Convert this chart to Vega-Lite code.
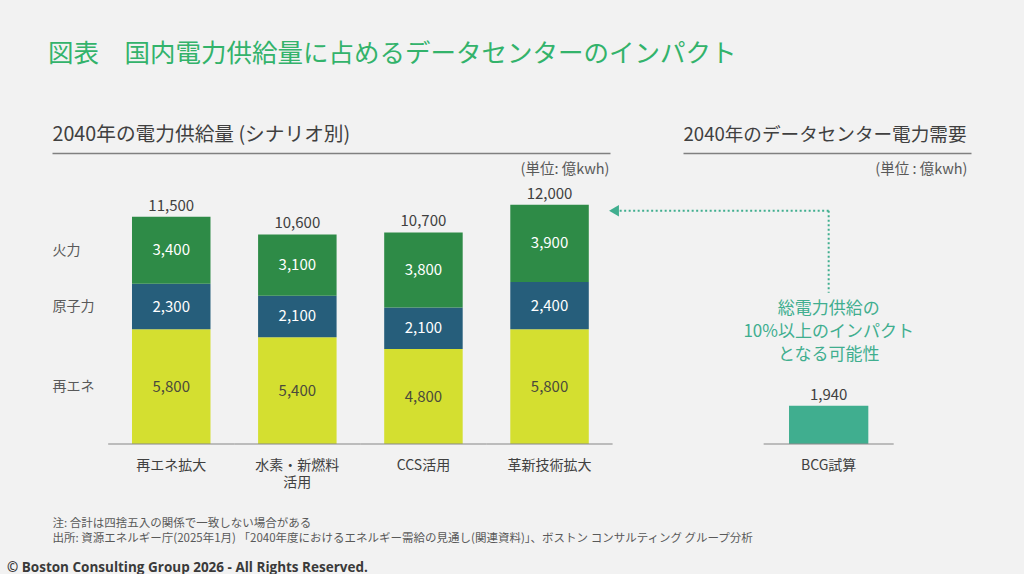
{
  "$schema": "https://vega.github.io/schema/vega-lite/v6.json",
  "background": "#f2f2f2",
  "padding": {"left": 7, "top": 41, "right": 53, "bottom": 0},
  "config": {
    "font": "Noto Sans CJK JP",
    "view": {"stroke": null},
    "axis": {"grid": false}
  },
  "title": {
    "text": "図表　国内電力供給量に占めるデータセンターのインパクト",
    "anchor": "start",
    "frame": "group",
    "dx": -4,
    "offset": 57,
    "fontSize": 25.5,
    "fontWeight": "normal",
    "color": "#33b36b"
  },
  "datasets": {
    "supply": [
      {"scenario": "再エネ拡大", "source": "再エネ", "value": 5800},
      {"scenario": "再エネ拡大", "source": "原子力", "value": 2300},
      {"scenario": "再エネ拡大", "source": "火力", "value": 3400},
      {"scenario": "水素・新燃料活用", "source": "再エネ", "value": 5400},
      {"scenario": "水素・新燃料活用", "source": "原子力", "value": 2100},
      {"scenario": "水素・新燃料活用", "source": "火力", "value": 3100},
      {"scenario": "CCS活用", "source": "再エネ", "value": 4800},
      {"scenario": "CCS活用", "source": "原子力", "value": 2100},
      {"scenario": "CCS活用", "source": "火力", "value": 3800},
      {"scenario": "革新技術拡大", "source": "再エネ", "value": 5800},
      {"scenario": "革新技術拡大", "source": "原子力", "value": 2400},
      {"scenario": "革新技術拡大", "source": "火力", "value": 3900}
    ],
    "totals": [
      {"scenario": "再エネ拡大", "total": 11500},
      {"scenario": "水素・新燃料活用", "total": 10600},
      {"scenario": "CCS活用", "total": 10700},
      {"scenario": "革新技術拡大", "total": 12000}
    ],
    "dc": [
      {"case": "BCG試算", "value": 1940}
    ]
  },
  "hconcat": [
    {
      "width": 558,
      "height": 291,
      "title": {
        "text": "© Boston Consulting Group 2026 - All Rights Reserved.",
        "orient": "bottom",
        "anchor": "start",
        "frame": "group",
        "dx": -45,
        "offset": 17,
        "font": "Open Sans",
        "fontSize": 13.5,
        "fontWeight": "bold",
        "color": "#3a3a3a"
      },
      "resolve": {"axis": {"x": "independent", "y": "independent"}},
      "layer": [
        {
          "data": {"name": "supply"},
          "transform": [
            {"calculate": "indexof(['再エネ','原子力','火力'], datum.source)", "as": "ord"},
            {"stack": "value", "groupby": ["scenario"], "sort": [{"field": "ord", "order": "ascending"}], "as": ["v0", "v1"]}
          ],
          "mark": {"type": "bar"},
          "encoding": {
            "x": {
              "field": "scenario", "type": "nominal",
              "sort": ["再エネ拡大", "水素・新燃料活用", "CCS活用", "革新技術拡大"],
              "scale": {"paddingInner": 0.3775, "paddingOuter": 0.4013, "align": 0.7904},
              "axis": {
                "orient": "bottom",
                "title": ["注: 合計は四捨五入の関係で一致しない場合がある", "出所: 資源エネルギー庁(2025年1月) 「2040年度におけるエネルギー需給の見通し(関連資料)」、ボストン コンサルティング グループ分析"],
                "domain": false, "ticks": false, "tickSize": 0,
                "labelPadding": 14, "labelAngle": 0, "labelFontSize": 14, "labelColor": "#404040",
                "labelLineHeight": 17,
                "labelExpr": "datum.value == '水素・新燃料活用' ? ['水素・新燃料', '活用'] : datum.value",
                "titleAnchor": "start", "titleAlign": "left", "titleBaseline": "top",
                "titleX": 0, "titleY": 73,
                "titleFontSize": 11.5, "titleFontWeight": "normal", "titleColor": "#595959", "titleLineHeight": 15
              }
            },
            "y": {
              "field": "v0", "type": "quantitative",
              "scale": {"domain": [0, 14720], "nice": false},
              "axis": {
                "orient": "left",
                "values": [2900, 6950, 9800],
                "labelExpr": "datum.value == 2900 ? '再エネ' : datum.value == 6950 ? '原子力' : '火力'",
                "domain": false, "ticks": false, "tickSize": 0, "grid": false,
                "labelAlign": "left", "labelPadding": 0, "labelFontSize": 14, "labelColor": "#595959",
                "title": "(単位: 億kwh)", "titleAngle": 0, "titleX": 557, "titleY": 16,
                "titleAlign": "right", "titleBaseline": "middle",
                "titleFontSize": 14.5, "titleFontWeight": "normal", "titleColor": "#595959"
              }
            },
            "y2": {"field": "v1"},
            "color": {
              "field": "source", "type": "nominal",
              "scale": {"domain": ["火力", "原子力", "再エネ"], "range": ["#2e8b47", "#265e7b", "#d4df30"]},
              "legend": null
            }
          }
        },
        {
          "data": {"name": "supply"},
          "transform": [
            {"calculate": "indexof(['再エネ','原子力','火力'], datum.source)", "as": "ord"},
            {"stack": "value", "groupby": ["scenario"], "sort": [{"field": "ord", "order": "ascending"}], "as": ["v0", "v1"]},
            {"calculate": "(datum.v0 + datum.v1) / 2", "as": "mid"}
          ],
          "mark": {"type": "text", "fontSize": 15, "baseline": "middle"},
          "encoding": {
            "x": {"field": "scenario", "type": "nominal", "sort": ["再エネ拡大", "水素・新燃料活用", "CCS活用", "革新技術拡大"], "axis": null},
            "y": {"field": "mid", "type": "quantitative", "axis": null},
            "text": {"field": "value", "type": "quantitative", "format": ","},
            "color": {"condition": {"test": "datum.source === '再エネ'", "value": "#4a4a3c"}, "value": "#ffffff"}
          }
        },
        {
          "data": {"name": "supply"},
          "transform": [
            {"aggregate": [{"op": "sum", "field": "value", "as": "top"}], "groupby": ["scenario"]},
            {"lookup": "scenario", "from": {"data": {"name": "totals"}, "key": "scenario", "fields": ["total"]}}
          ],
          "mark": {"type": "text", "fontSize": 15, "baseline": "middle", "dy": -11, "color": "#404040"},
          "encoding": {
            "x": {"field": "scenario", "type": "nominal", "sort": ["再エネ拡大", "水素・新燃料活用", "CCS活用", "革新技術拡大"], "axis": null},
            "y": {"field": "top", "type": "quantitative", "axis": null},
            "text": {"field": "total", "type": "quantitative", "format": ","}
          }
        },
        {
          "data": {"name": "totals"},
          "mark": {"type": "tick", "orient": "horizontal", "size": 126.1, "thickness": 1.5, "color": "#8c8c8c"},
          "encoding": {
            "x": {
              "field": "scenario", "type": "nominal",
              "sort": ["再エネ拡大", "水素・新燃料活用", "CCS活用", "革新技術拡大"],
              "axis": {
                "orient": "top",
                "title": "2040年の電力供給量 (シナリオ別)",
                "labels": false, "ticks": false, "tickSize": 0,
                "domain": true, "domainColor": "#808080", "domainWidth": 1.5,
                "titleAnchor": "start", "titleAlign": "left", "titlePadding": 9,
                "titleFontSize": 19.7, "titleFontWeight": "normal", "titleColor": "#404040"
              }
            },
            "y": {"datum": 0, "type": "quantitative", "axis": null}
          }
        }
      ]
    },
    {
      "width": 288,
      "height": 291,
      "resolve": {"axis": {"x": "independent", "y": "independent"}},
      "layer": [
        {
          "data": {"name": "dc"},
          "mark": {"type": "bar", "color": "#40ae8f"},
          "encoding": {
            "x": {
              "field": "case", "type": "nominal",
              "scale": {"paddingInner": 0.39, "paddingOuter": 0.8027, "align": 0.508},
              "axis": {
                "orient": "bottom", "title": null,
                "domain": false, "ticks": false, "tickSize": 0,
                "labelPadding": 14, "labelAngle": 0, "labelFontSize": 14, "labelColor": "#404040"
              }
            },
            "y": {
              "field": "value", "type": "quantitative",
              "scale": {"domain": [0, 14720], "nice": false},
              "axis": {
                "orient": "left",
                "labels": false, "domain": false, "ticks": false, "tickSize": 0, "grid": false,
                "title": "(単位 : 億kwh)", "titleAngle": 0, "titleX": 284, "titleY": 16,
                "titleAlign": "right", "titleBaseline": "middle",
                "titleFontSize": 14.5, "titleFontWeight": "normal", "titleColor": "#595959"
              }
            }
          }
        },
        {
          "data": {"name": "dc"},
          "mark": {"type": "text", "fontSize": 15, "baseline": "middle", "dy": -11, "color": "#404040"},
          "encoding": {
            "x": {"field": "case", "type": "nominal", "axis": null},
            "y": {"field": "value", "type": "quantitative", "axis": null},
            "text": {"field": "value", "type": "quantitative", "format": ","}
          }
        },
        {
          "data": {"name": "dc"},
          "mark": {"type": "tick", "orient": "horizontal", "size": 130, "thickness": 1.5, "color": "#8c8c8c"},
          "encoding": {
            "x": {
              "field": "case", "type": "nominal",
              "axis": {
                "orient": "top",
                "title": "2040年のデータセンター電力需要",
                "labels": false, "ticks": false, "tickSize": 0,
                "domain": true, "domainColor": "#808080", "domainWidth": 1.5,
                "titleAnchor": "start", "titleAlign": "left", "titlePadding": 9,
                "titleFontSize": 18.6, "titleFontWeight": "normal", "titleColor": "#404040"
              }
            },
            "y": {"datum": 0, "type": "quantitative", "axis": null}
          }
        },
        {
          "data": {"name": "dc"},
          "mark": {"type": "rule", "color": "#40ae8f", "strokeWidth": 2, "strokeDash": [2, 2.5]},
          "encoding": {
            "x": {"field": "case", "type": "nominal", "bandPosition": 0.5, "axis": null},
            "x2": {"field": "case", "bandPosition": -2.144},
            "y": {"datum": 11800, "type": "quantitative", "axis": null}
          }
        },
        {
          "data": {"name": "dc"},
          "mark": {"type": "rule", "color": "#40ae8f", "strokeWidth": 2, "strokeDash": [2, 2.5]},
          "encoding": {
            "x": {"field": "case", "type": "nominal", "axis": null},
            "y": {"datum": 11800, "type": "quantitative", "axis": null},
            "y2": {"datum": 7650}
          }
        },
        {
          "data": {"name": "dc"},
          "mark": {"type": "point", "shape": "triangle-left", "filled": true, "size": 130, "opacity": 1, "color": "#40ae8f"},
          "encoding": {
            "x": {"field": "case", "type": "nominal", "bandPosition": -2.207, "axis": null},
            "y": {"datum": 11800, "type": "quantitative", "axis": null}
          }
        },
        {
          "data": {"name": "dc"},
          "mark": {
            "type": "text",
            "text": ["総電力供給の", "10%以上のインパクト", "となる可能性"],
            "fontSize": 17, "lineHeight": 23, "baseline": "middle", "align": "center", "color": "#40ae8f"
          },
          "encoding": {
            "x": {"field": "case", "type": "nominal", "axis": null},
            "y": {"datum": 6830, "type": "quantitative", "axis": null}
          }
        }
      ]
    }
  ],
  "spacing": 73,
  "bounds": "flush"
}
